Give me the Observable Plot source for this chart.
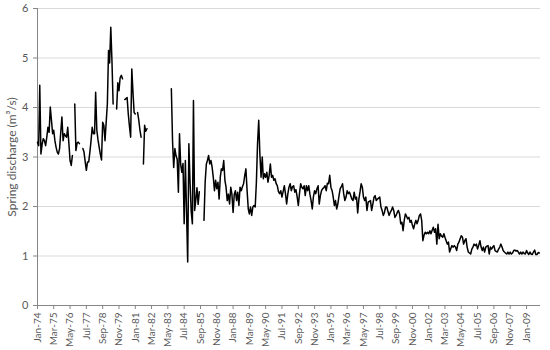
<!DOCTYPE html>
<html>
<head>
<meta charset="utf-8">
<script src="https://cdn.jsdelivr.net/npm/d3@7"></script>
<script src="https://cdn.jsdelivr.net/npm/@observablehq/plot@0.6"></script>
<style>
  html, body { margin: 0; padding: 0; background: #fff; }
  #chart { width: 550px; height: 350px; }
</style>
</head>
<body>
<div id="chart"></div>
<script>
// Monthly spring discharge (m³/s), one value per month starting Jan 1974; null = no record
const startMonth = new Date(Date.UTC(1974, 0, 1));
const endMonth = new Date(Date.UTC(2010, 0, 1));

const q1974_1979 = [
  3.30, 3.23, 4.45, 3.06, 3.25, 3.37, 3.33, 3.23, 3.40, 3.60, 3.50, 4.01,
  3.74, 3.47, 3.54, 3.33, 3.20, 3.10, 3.06, 3.17, 3.50, 3.81, 3.33, 3.47,
  3.43, 3.40, 3.60, 3.27, 2.93, 2.83, 3.03, null, 4.07, 3.13, 3.28, 3.30,
  3.27, null, null, 3.17, 3.10, 2.90, 2.73, 2.90, 2.90, 3.10, 3.33, 3.60,
  3.47, 3.47, 4.31, 3.54, 3.35, 3.20, 3.06, 2.94, 3.70, 3.64, 3.33, 3.70,
  4.07, 5.15, 4.90, 5.62, 4.95, 4.07, null, null, 3.97, 4.50, 4.34, 4.60
];
const q1980_1985 = [
  4.65, 4.58, null, 4.16, 4.18, 4.20, 3.87, 3.62, 3.40, 4.78, 4.30, 3.90,
  3.87, null, 3.90, 3.75, 3.55, 3.40, null, 2.86, 3.64, 3.52, 3.57, null,
  null, null, null, null, null, null, null, null, null, null, null, null,
  null, null, null, null, null, null, null, 4.38, 3.33, 2.79, 3.17, 3.03,
  2.95, 2.29, 3.47, 2.85, 2.69, 2.87, 1.65, 2.93, 1.90, 0.88, 3.27, 2.51,
  1.90, 1.65, 4.14, 1.92, 2.13, 2.38, 2.04, 2.30, null, null, null, 1.72
];
const q1986_1991 = [
  2.50, 2.86, 2.93, 3.03, 2.86, 2.93, 2.80, 2.59, 2.32, 2.53, 2.36, 2.49,
  2.15, 2.60, 2.76, 2.73, 2.93, 2.53, 2.39, 2.12, 2.25, 2.05, 2.39, 2.25,
  1.88, 2.25, 2.32, 2.12, 2.29, 2.02, 2.39, 2.32, 2.40, 2.46, 2.63, 2.76,
  2.32, 1.95, 1.85, 1.99, 1.82, 1.99, 2.02, 1.99, 2.49, 3.27, 3.74, 3.06,
  2.59, 3.00, 2.56, 2.66, 2.59, 2.69, 2.49, 2.63, 2.86, 2.59, 2.63, 2.53,
  2.56, 2.46, 2.42, 2.30, 2.26, 2.32, 2.19, 2.30, 2.42, 2.26, 2.05, 2.25
];
const q1992_1997 = [
  2.39, 2.46, 2.32, 2.40, 2.42, 2.29, 2.34, 2.20, 2.02, 2.26, 2.46, 2.39,
  2.36, 2.42, 2.22, 2.42, 2.32, 2.42, 2.25, 2.12, 1.95, 2.20, 2.32, 2.26,
  2.36, 2.42, 2.05, 2.22, 2.32, 2.36, 2.38, 2.42, 2.32, 2.47, 2.46, 2.63,
  2.39, 2.32, 2.20, 2.02, 2.12, 1.95, 2.05, 2.22, 2.36, 2.40, 2.46, 2.26,
  2.12, 2.19, 2.32, 2.26, 2.29, 2.22, 2.15, 2.12, 2.29, 2.15, 2.19, 1.87,
  2.15, 2.30, 2.46, 2.39, 2.19, 2.12, 2.19, 1.92, 2.09, 2.10, 2.12, 1.92
];
const q1998_2003 = [
  2.05, 2.19, 2.22, 2.12, 2.15, 2.17, 2.19, 1.99, 1.92, 1.82, 1.88, 1.99,
  1.99, 1.90, 1.82, 1.88, 1.92, 1.99, 1.92, 1.78, 1.82, 1.88, 1.92, 1.85,
  1.65, 1.68, 1.51, 1.72, 1.85, 1.80, 1.75, 1.78, 1.68, 1.72, 1.62, 1.55,
  1.65, 1.72, 1.65, 1.72, 1.82, 1.85, 1.72, 1.31, 1.42, 1.48, 1.45, 1.48,
  1.45, 1.51, 1.45, 1.52, 1.58, 1.48, 1.55, 1.24, 1.64, 1.35, 1.45, 1.40,
  1.38, 1.45, 1.38, 1.31, 1.24, 1.28, 1.08, 1.15, 1.21, 1.18, 1.21, 1.18
];
const q2004_2009 = [
  1.11, 1.24, 1.28, 1.35, 1.41, 1.38, 1.24, 1.31, 1.35, 1.18, 1.08, 1.06,
  1.04, 1.14, 1.18, 1.24, 1.21, 1.24, 1.14, 1.22, 1.31, 1.18, 1.11, 1.18,
  1.08, 1.18, 1.20, 1.21, 1.04, 1.18, 1.14, 1.18, 1.21, 1.11, 1.09, 1.08,
  1.14, 1.18, 1.24, 1.18, 1.11, 1.08, 1.06, 1.04, 1.08, 1.04, 1.08, 1.04,
  1.06, 1.11, 1.12, 1.10, 1.11, 1.08, 1.04, 1.08, 1.04, 1.08, 1.05, 1.04,
  1.11, 1.06, 1.03, 1.08, 1.04, 1.03, 1.08, 1.12, 1.03, 1.03, 1.07, 1.06
];

// Axis ticks: every 14 months from Jan-74 to Jan-09; y ticks 0..6
const xTickStepMonths = 14;
const xTickCount = 31;
const yTicks = [0, 1, 2, 3, 4, 5, 6];
const yLabel = "Spring discharge (m³/s)";

const series = [].concat(q1974_1979, q1980_1985, q1986_1991, q1992_1997, q1998_2003, q2004_2009);
const data = series.map((v, i) => ({ date: d3.utcMonth.offset(startMonth, i), q: v }));
const xTicks = d3.range(xTickCount).map(i => d3.utcMonth.offset(startMonth, i * xTickStepMonths));

const chart = Plot.plot({
  width: 550,
  height: 350,
  marginLeft: 37,
  marginRight: 10,
  marginTop: 8,
  marginBottom: 45,
  style: { fontFamily: "Lato, 'Liberation Sans', sans-serif", background: "#fff", color: "#595959" },
  x: { type: "utc", domain: [startMonth, endMonth] },
  y: { domain: [0, 6] },
  marks: [
    Plot.gridY(yTicks.filter(d => d > 0), { stroke: "#d9d9d9", strokeOpacity: 1 }),
    Plot.axisY({ ticks: yTicks, tickFormat: d => String(d), tickSize: 4, tickPadding: 5, fontSize: 11,
                 label: null, stroke: "#868686", fill: "#595959" }),
    Plot.axisX({ ticks: xTicks, tickFormat: d3.utcFormat("%b-%y"), tickRotate: -90,
                 tickSize: 4, tickPadding: 3, fontSize: 10, label: null,
                 stroke: "#868686", fill: "#595959" }),
    Plot.ruleX([startMonth], { stroke: "#868686", strokeWidth: 1 }),
    Plot.ruleY([0], { stroke: "#868686", strokeWidth: 1 }),
    Plot.line(data, { x: "date", y: "q", stroke: "#000", strokeWidth: 1.5 }),
    Plot.text([yLabel], { frameAnchor: "left", dx: -25, rotate: -90, textAnchor: "middle",
                          fontSize: 12, fill: "#595959" })
  ]
});
document.getElementById("chart").appendChild(chart);
</script>
</body>
</html>
